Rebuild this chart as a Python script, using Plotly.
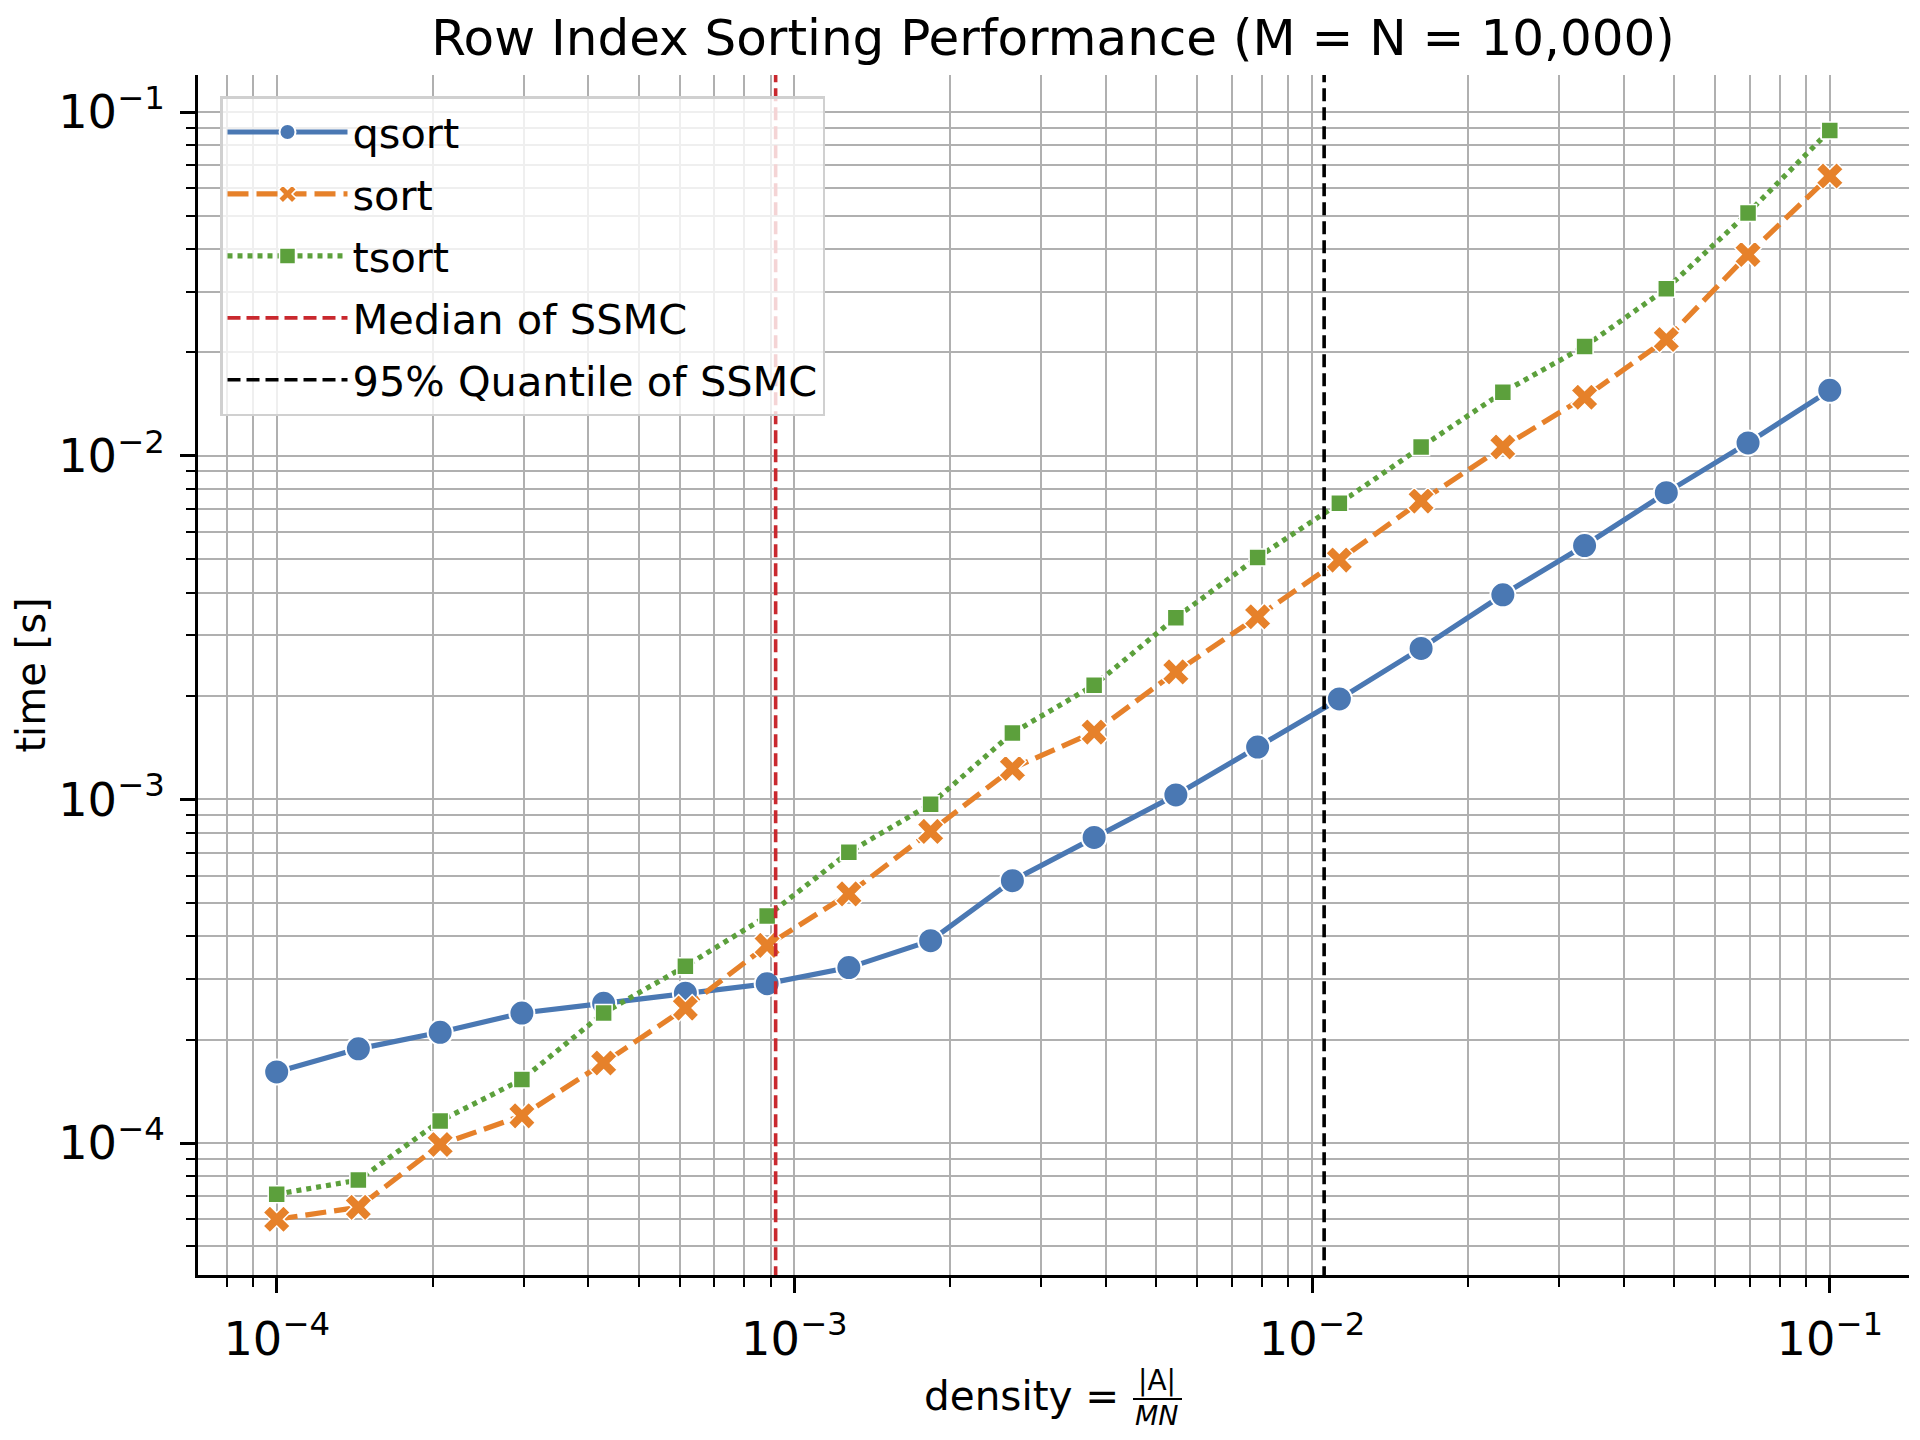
import plotly.graph_objects as go

# ---------------- data ----------------
density = [1.000e-4, 1.438e-4, 2.069e-4, 2.976e-4, 4.281e-4, 6.158e-4, 8.859e-4,
           1.274e-3, 1.833e-3, 2.637e-3, 3.793e-3, 5.456e-3, 7.848e-3, 1.129e-2,
           1.624e-2, 2.336e-2, 3.360e-2, 4.833e-2, 6.952e-2, 1.000e-1]
qsort = [1.61e-4, 1.88e-4, 2.10e-4, 2.39e-4, 2.55e-4, 2.73e-4, 2.91e-4, 3.24e-4,
         3.88e-4, 5.80e-4, 7.75e-4, 1.03e-3, 1.42e-3, 1.96e-3, 2.75e-3, 3.94e-3,
         5.48e-3, 7.81e-3, 1.09e-2, 1.55e-2]
sort = [6.0e-5, 6.5e-5, 9.9e-5, 1.20e-4, 1.71e-4, 2.47e-4, 3.76e-4, 5.31e-4,
        8.07e-4, 1.23e-3, 1.57e-3, 2.35e-3, 3.40e-3, 4.97e-3, 7.38e-3, 1.06e-2,
        1.48e-2, 2.18e-2, 3.85e-2, 6.52e-2]
tsort = [7.1e-5, 7.8e-5, 1.16e-4, 1.53e-4, 2.39e-4, 3.27e-4, 4.58e-4, 7.02e-4,
         9.68e-4, 1.56e-3, 2.15e-3, 3.38e-3, 5.06e-3, 7.27e-3, 1.06e-2, 1.53e-2,
         2.08e-2, 3.06e-2, 5.09e-2, 8.84e-2]
ssmc_median = 9.2e-4
ssmc_q95 = 1.055e-2
vline_span = [1e-6, 1.0]  # extends beyond the visible range, clipped by the axes

# ---------------- styling ----------------
FONT = "DejaVu Sans"
BLUE = "#4a78b3"
ORANGE = "#e6812a"
GREEN = "#5ca03c"
RED = "#c9282e"
GRID = "#b0b0b0"

OFF = 8  # default page (body) margin of the html page
W, H = 1920 - 2 * OFF, 1440 - 2 * OFF
# plot area in page pixels: left 198, right 1909, top 75, bottom 1275
L = 198 - OFF
T = 75 - OFF
R = W - (1909 - OFF)
B = H - (1275 - OFF)
pw, ph = W - L - R, H - T - B


def px_x(px):
    return (px - OFF - L) / pw


def px_y(py):
    return (H - B - (py - OFF)) / ph


fig = go.Figure()

fig.add_trace(go.Scatter(
    x=density, y=qsort, name="qsort", mode="lines+markers", legendgroup="g1",
    line=dict(color=BLUE, width=5.2),
    marker=dict(symbol="circle", size=25, color=BLUE, line=dict(color="white", width=2)),
))
fig.add_trace(go.Scatter(
    x=density, y=sort, name="sort", mode="lines+markers", legendgroup="g2",
    line=dict(color=ORANGE, width=5.2, dash="21px,8px"),
    marker=dict(symbol="x", size=24, color=ORANGE, line=dict(color="white", width=1.5)),
))
fig.add_trace(go.Scatter(
    x=density, y=tsort, name="tsort", mode="lines+markers", legendgroup="g3",
    line=dict(color=GREEN, width=5.2, dash="5px,5px"),
    marker=dict(symbol="square", size=17, color=GREEN, line=dict(color="white", width=1.5)),
))
fig.add_trace(go.Scatter(
    x=[ssmc_median, ssmc_median], y=vline_span, name="Median of SSMC", mode="lines",
    legendgroup="g4",
    line=dict(color=RED, width=3.6, dash="13px,6px"),
))
fig.add_trace(go.Scatter(
    x=[ssmc_q95, ssmc_q95], y=vline_span, name="95% Quantile of SSMC", mode="lines",
    legendgroup="g5",
    line=dict(color="black", width=3.6, dash="13px,6px"),
))

axis_common = dict(
    type="log", dtick=1, exponentformat="power",
    showline=True, linecolor="black", linewidth=2.7, mirror=False,
    ticks="outside", ticklen=15, tickwidth=2.7, tickcolor="black",
    showgrid=True, gridcolor=GRID, gridwidth=2.4,
    tickfont=dict(family=FONT, size=37, color="black"),
    ticklabelstandoff=8,
    zeroline=False,
    minor=dict(ticks="outside", ticklen=9, tickwidth=2, tickcolor="black",
               showgrid=True, gridcolor=GRID, gridwidth=2.4),
)

fig.update_xaxes(**axis_common, range=[-4.152, -0.847])
fig.update_yaxes(**axis_common, range=[-4.384, -0.892],
                 title=dict(text="time [s]", font=dict(family=FONT, size=40, color="black"),
                            standoff=16))

fig.update_layout(
    width=W, height=H,
    margin=dict(l=L, r=R, t=T, b=B, autoexpand=False),
    paper_bgcolor="white", plot_bgcolor="white",
    font=dict(family=FONT, color="black"),
    title=dict(text="Row Index Sorting Performance (M = N = 10,000)",
               font=dict(family=FONT, size=50, color="black"),
               xref="paper", x=px_x(1053), xanchor="center",
               yref="container", y=1 - (37 - OFF) / H, yanchor="middle"),
    legend=dict(x=px_x(220), y=px_y(96), xanchor="left", yanchor="top",
                bgcolor="rgba(255,255,255,0.8)", bordercolor="#d0d0d0", borderwidth=2.5,
                font=dict(family=FONT, size=41.5, color="black"),
                itemwidth=120, tracegroupgap=5),
    showlegend=True,
)

# x-axis label: density = |A| / MN
fig.add_annotation(text="density =", xref="paper", yref="paper",
                   x=px_x(1121), y=px_y(1396), xanchor="right", yanchor="middle",
                   showarrow=False, font=dict(family=FONT, size=40.5, color="black"))
fig.add_annotation(text="|A|", xref="paper", yref="paper",
                   x=px_x(1157), y=px_y(1398), xanchor="center", yanchor="bottom",
                   borderpad=0, showarrow=False, font=dict(family=FONT, size=28, color="black"))
fig.add_annotation(text="<i>MN</i>", xref="paper", yref="paper",
                   x=px_x(1157), y=px_y(1399), xanchor="center", yanchor="top",
                   borderpad=0, showarrow=False, font=dict(family=FONT, size=27, color="black"))
fig.add_shape(type="line", xref="paper", yref="paper",
              x0=px_x(1133), x1=px_x(1182), y0=px_y(1399), y1=px_y(1399),
              line=dict(color="black", width=2))

fig.write_html("out.html")
